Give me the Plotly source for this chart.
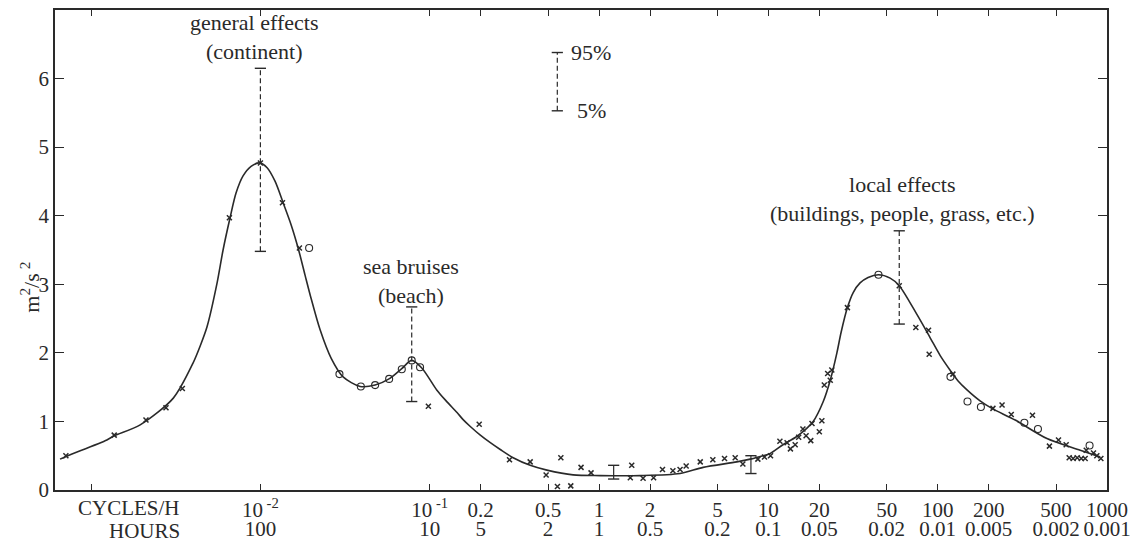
import math
import plotly.graph_objects as go

# Smoothed horizontal wind-speed spectrum: frequency (cycles/h) vs m^2/s^2
curve_f = [0.000656, 0.000712, 0.00124, 0.00137, 0.00195, 0.00306,
           0.00400, 0.00441, 0.00484, 0.00555, 0.00602, 0.00662, 0.00718, 0.00790,
           0.00881, 0.0099, 0.01096, 0.01222, 0.01362, 0.01518, 0.0167, 0.01837,
           0.0199, 0.0225, 0.0262, 0.0308,
           0.0388, 0.0476, 0.0575, 0.0684, 0.0783, 0.0898, 0.110, 0.125,
           0.145, 0.157, 0.173, 0.199, 0.228, 0.261, 0.311, 0.392, 0.492, 0.703,
           1.02, 1.75, 3.01, 4.12, 6.51, 7.81, 8.95,
           10.2, 12.2, 14.7, 18.4, 21.1, 23.2, 25.4, 26.9, 29.3, 31.7, 34.8, 38.8,
           44.7, 52.4, 59.3, 75.4, 90.3, 103.5, 119, 132, 149, 178, 209, 287, 442,
           695, 912]
curve_s = [0.45, 0.49, 0.73, 0.79, 0.95, 1.34,
           1.85, 2.10, 2.38, 3.02, 3.50, 3.97, 4.33, 4.58,
           4.72, 4.77, 4.70, 4.50, 4.19, 3.87, 3.53, 3.13,
           2.80, 2.34, 1.92, 1.65,
           1.51, 1.53, 1.62, 1.77, 1.89, 1.78, 1.46, 1.30,
           1.13, 1.03, 0.93, 0.80, 0.69, 0.59, 0.47, 0.36, 0.29, 0.22,
           0.21, 0.21, 0.24, 0.33, 0.41, 0.45, 0.49,
           0.53, 0.66, 0.78, 1.0, 1.29, 1.60, 2.0, 2.30, 2.66, 2.88, 3.02, 3.10,
           3.14, 3.09, 2.98, 2.56, 2.22, 1.96, 1.74, 1.59, 1.46, 1.30, 1.19, 1.02,
           0.75, 0.58, 0.48]

# Measured estimates (crosses)
cross_f = [0.00071, 0.00137, 0.00211, 0.00277, 0.00346, 0.00656, 0.01, 0.0135, 0.0170,
           0.0982, 0.196, 0.296, 0.392, 0.487, 0.595, 0.568, 0.681, 0.783, 0.897,
           1.56, 1.53, 1.82, 2.10, 2.37, 2.73, 3.01, 3.27, 3.96, 4.70, 5.51, 6.37,
           7.07, 8.67, 9.49, 10.3, 11.7, 12.9, 13.5, 14.4, 15.1, 16.0, 16.7, 17.8,
           18.1, 20.0, 20.7, 21.4, 22.4, 23.2, 23.7, 29.3, 59.3, 74.3, 88.3, 89.1,
           123, 212, 240, 272, 363, 457, 517, 574, 598, 631, 667, 705, 743, 754,
           832, 871, 920]
cross_s = [0.50, 0.80, 1.02, 1.20, 1.48, 3.97, 4.77, 4.19, 3.53, 1.22, 0.96, 0.44,
           0.41, 0.22, 0.47, 0.05, 0.06, 0.33, 0.25, 0.36, 0.18, 0.17, 0.18, 0.30,
           0.28, 0.30, 0.35, 0.41, 0.44, 0.46, 0.47, 0.38, 0.45, 0.48, 0.50, 0.71,
           0.69, 0.60, 0.66, 0.77, 0.89, 0.79, 0.72, 0.97, 0.85, 1.01, 1.53, 1.70,
           1.60, 1.75, 2.66, 2.98, 2.37, 2.33, 1.98, 1.69, 1.19, 1.24, 1.10, 1.09,
           0.64, 0.73, 0.66, 0.47, 0.46, 0.47, 0.46, 0.46, 0.58, 0.54, 0.50, 0.46]

# Measured estimates (circles)
circ_f = [0.0194, 0.0293, 0.0392, 0.0476, 0.0576, 0.0684, 0.0783, 0.0877,
          44.7, 119, 150, 180, 325, 391, 789]
circ_s = [3.53, 1.69, 1.51, 1.53, 1.62, 1.76, 1.89, 1.79,
          3.14, 1.65, 1.29, 1.21, 0.98, 0.89, 0.65]

# 5%-95% confidence ranges at the three peaks (dashed)
band_f = [0.01, 0.0783, 59.3]
band_lo = [3.48, 1.29, 2.42]
band_hi = [6.15, 2.67, 3.78]

# confidence ranges in the spectral gap (solid)
gap_f = [1.22, 7.89]
gap_lo = [0.16, 0.24]
gap_hi = [0.36, 0.50]

# key for the dashed ranges
key_f = 0.567
key_lo = 5.53
key_hi = 6.38

# axis ticks
tick_cyc = [0.001, 0.01, 0.1, 0.2, 0.5, 1, 2, 5, 10, 20, 50, 100, 200, 500, 1000]
tick_cyc_text = ["", "10<sup> -2</sup>", "10<sup> -1</sup>", "0.2", "0.5", "1", "2", "5",
                 "10", "20", "50", "100", "200", "500", "1000"]
tick_hours_text = ["", "100", "10", "5", "2", "1", "0.5", "0.2", "0.1", "0.05", "0.02",
                   "0.01", "0.005", "0.002", "0.001"]
y_ticks = [0, 1, 2, 3, 4, 5, 6]

INK = "#2a2a2a"
FONT = "Liberation Serif"
x_range = [-3.213, 3.0]
y_range = [0, 7]

fig = go.Figure()

fig.add_trace(go.Scatter(
    x=curve_f, y=curve_s, mode="lines",
    line=dict(color=INK, width=1.6, shape="spline", smoothing=0.8),
    hoverinfo="skip"))

# dashed 5%-95% ranges
for f, lo, hi in list(zip(band_f, band_lo, band_hi)) + [(key_f, key_lo, key_hi)]:
    fig.add_trace(go.Scatter(
        x=[f, f], y=[lo, hi], mode="lines",
        line=dict(color=INK, width=1.2, dash="5px,3px"), hoverinfo="skip"))
    fig.add_trace(go.Scatter(
        x=[f, f], y=[lo, hi], mode="markers",
        marker=dict(symbol="line-ew", size=8, line=dict(color=INK, width=1.4)),
        hoverinfo="skip"))

# solid ranges in the gap
for f, lo, hi in zip(gap_f, gap_lo, gap_hi):
    fig.add_trace(go.Scatter(
        x=[f, f], y=[lo, hi], mode="lines+markers",
        line=dict(color=INK, width=1.2),
        marker=dict(symbol="line-ew", size=8, line=dict(color=INK, width=1.4)),
        hoverinfo="skip"))

fig.add_trace(go.Scatter(
    x=cross_f, y=cross_s, mode="markers",
    marker=dict(symbol="x-thin", size=5, line=dict(color=INK, width=1.5)),
    hoverinfo="skip"))

fig.add_trace(go.Scatter(
    x=circ_f, y=circ_s, mode="markers", xaxis="x2",
    marker=dict(symbol="circle-open", size=7, color=INK, line=dict(color=INK, width=1.1)),
    hoverinfo="skip"))

axis_font = dict(family=FONT, size=21, color=INK)
fig.update_layout(
    width=1143, height=544,
    margin=dict(l=55, r=36, t=10, b=54),
    paper_bgcolor="white", plot_bgcolor="white",
    showlegend=False,
    xaxis=dict(type="log", range=x_range, tickvals=tick_cyc, ticktext=tick_cyc_text,
               ticks="inside", ticklen=6, tickwidth=1.2, tickcolor=INK,
               showline=True, linecolor=INK, linewidth=1.5, mirror="ticks",
               showgrid=False, zeroline=False, tickfont=axis_font,
               automargin=False),
    xaxis2=dict(type="log", range=x_range, overlaying="x", anchor="y", side="bottom",
                tickvals=tick_cyc, ticktext=tick_hours_text, ticks="",
                showline=False, showgrid=False, zeroline=False,
                ticklabelstandoff=24, tickfont=axis_font, automargin=False),
    yaxis=dict(range=y_range, tickvals=y_ticks, ticks="inside", ticklen=9,
               tickwidth=1.2, tickcolor=INK, showline=True, linecolor=INK,
               linewidth=1.5, mirror="ticks", showgrid=False, zeroline=False,
               tickfont=axis_font, automargin=False),
)

ann_font = dict(family=FONT, size=22, color=INK)
notes = [
    ("general effects<br>(continent)", -2.037, 6.61),
    ("sea bruises<br>(beach)", -1.110, 3.055),
    ("local effects<br>(buildings, people, grass, etc.)", 1.790, 4.24),
]
for text, lx, ly in notes:
    fig.add_annotation(text=text, x=lx, y=ly, xref="x", yref="y", showarrow=False,
                       xanchor="center", yanchor="middle", font=ann_font)

fig.add_annotation(text="95%", x=math.log10(key_f), y=key_hi, xref="x", yref="y",
                   xshift=12, showarrow=False, xanchor="left", yanchor="middle", font=ann_font)
fig.add_annotation(text="5%", x=math.log10(key_f), y=key_lo, xref="x", yref="y",
                   xshift=18, showarrow=False, xanchor="left", yanchor="middle", font=ann_font)

fig.add_annotation(text="CYCLES/H", x=0.1207, y=-0.0375, xref="paper", yref="paper",
                   showarrow=False, xanchor="right", yanchor="middle", font=axis_font)
fig.add_annotation(text="HOURS", x=0.1207, y=-0.0854, xref="paper", yref="paper",
                   showarrow=False, xanchor="right", yanchor="middle", font=axis_font)
fig.add_annotation(text="m<sup>2</sup>/s<sup> 2</sup>", x=-0.024, y=0.423,
                   xref="paper", yref="paper", showarrow=False, textangle=-90,
                   xanchor="center", yanchor="middle", font=ann_font)

fig.write_html("out.html")
